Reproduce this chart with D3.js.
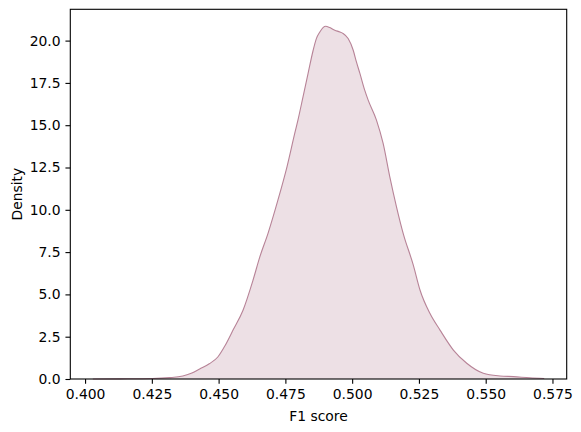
<!DOCTYPE html>
<html>
<head>
<meta charset="utf-8">
<script src="https://cdn.jsdelivr.net/npm/d3@7"></script>
<style>
  html, body { margin: 0; padding: 0; background: #fff; }
  svg { display: block; }
  text { font-family: "DejaVu Sans", sans-serif; fill: #000; }
</style>
</head>
<body>
<svg id="chart" width="581" height="432"></svg>
<script>
// F1 score values (x) and KDE density values (y)
const f1Scores = [0.4029, 0.4129, 0.4252, 0.4316, 0.4366, 0.4400, 0.4429, 0.4465, 0.4497, 0.4525,
  0.4554, 0.4591, 0.4629, 0.4654, 0.4685, 0.4722, 0.4756, 0.4785, 0.4797, 0.4816,
  0.4835, 0.4854, 0.4866, 0.4879, 0.4891, 0.4901, 0.4916, 0.4935, 0.4954, 0.4966,
  0.4985, 0.5004, 0.5016, 0.5029, 0.5047, 0.5060, 0.5091, 0.5116, 0.5141, 0.5166,
  0.5191, 0.5229, 0.5254, 0.5291, 0.5329, 0.5379, 0.5429, 0.5491, 0.5554, 0.5604,
  0.5665, 0.5719];
const densities = [0.00, 0.01, 0.03, 0.08, 0.18, 0.35, 0.59, 0.90, 1.30, 2.00,
  2.89, 4.05, 5.85, 7.20, 8.61, 10.57, 12.54, 14.51, 15.30, 16.67,
  18.06, 19.43, 20.12, 20.51, 20.77, 20.85, 20.77, 20.61, 20.51, 20.42,
  20.12, 19.43, 18.74, 18.06, 17.07, 16.48, 15.30, 13.92, 11.95, 10.18,
  8.61, 6.73, 5.26, 3.88, 2.89, 1.71, 0.93, 0.34, 0.18, 0.14,
  0.07, 0.03];
const xTicks = [0.400, 0.425, 0.450, 0.475, 0.500, 0.525, 0.550, 0.575];
const yTicks = [0.0, 2.5, 5.0, 7.5, 10.0, 12.5, 15.0, 17.5, 20.0];
const xLabel = "F1 score";
const yLabel = "Density";

const data = f1Scores.map((v, i) => ({ x: v, y: densities[i] }));

const svg = d3.select("#chart");
const mLeft = 70.3, mRight = 566.7, mTop = 9.3, mBottom = 379;
const lineColor = "#b78397";

const x = d3.scaleLinear().domain([0.39447, 0.58033]).range([mLeft, mRight]);
const y = d3.scaleLinear().domain([0, 21.85]).range([mBottom, mTop]);

const area = d3.area().x(d => x(d.x)).y0(y(0)).y1(d => y(d.y)).curve(d3.curveMonotoneX);
const line = d3.line().x(d => x(d.x)).y(d => y(d.y)).curve(d3.curveMonotoneX);

svg.append("path").datum(data).attr("d", area)
  .attr("fill", lineColor).attr("fill-opacity", 0.25).attr("stroke", "none");
svg.append("path").datum(data).attr("d", line)
  .attr("fill", "none").attr("stroke", lineColor).attr("stroke-width", 1.1);

// axes
const xAxis = d3.axisBottom(x).tickValues(xTicks).tickFormat(d3.format(".3f"))
  .tickSize(4.86).tickPadding(4.86);
const gx = svg.append("g").attr("transform", `translate(0,${mBottom})`).call(xAxis);
const yAxis = d3.axisLeft(y).tickValues(yTicks).tickFormat(d3.format(".1f"))
  .tickSize(4.86).tickPadding(4.86);
const gy = svg.append("g").attr("transform", `translate(${mLeft},0)`).call(yAxis);

[gx, gy].forEach(g => {
  g.select(".domain").remove();
  g.selectAll(".tick line").attr("stroke", "#000").attr("stroke-width", 1.1);
  g.selectAll(".tick text").style("font-family", "'DejaVu Sans', sans-serif")
    .style("font-size", "13.9px").attr("fill", "#000");
});

// spines
svg.append("rect").attr("x", mLeft).attr("y", mTop)
  .attr("width", mRight - mLeft).attr("height", mBottom - mTop)
  .attr("fill", "none").attr("stroke", "#000").attr("stroke-width", 1.1);

svg.append("text").attr("x", (mLeft + mRight) / 2).attr("y", 420.5)
  .attr("text-anchor", "middle").style("font-size", "13.9px").text(xLabel);
svg.append("text").attr("transform", `translate(22,${(mTop + mBottom) / 2}) rotate(-90)`)
  .attr("text-anchor", "middle").style("font-size", "13.9px").text(yLabel);
</script>
</body>
</html>
